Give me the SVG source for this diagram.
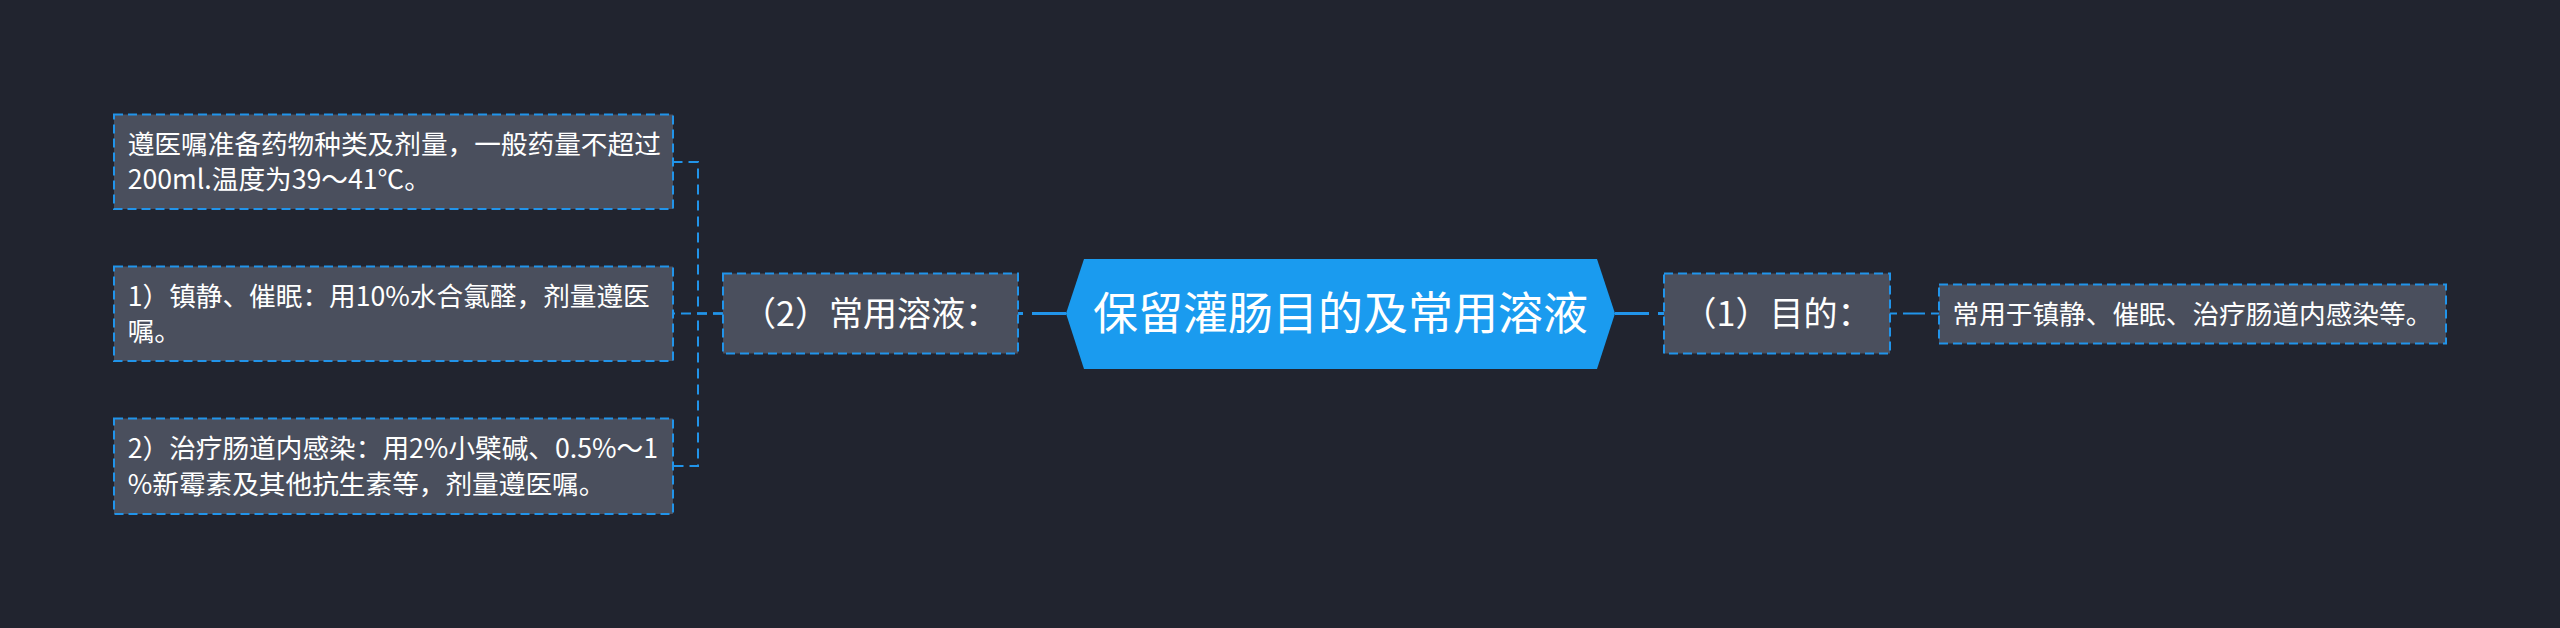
<svg xmlns="http://www.w3.org/2000/svg" width="2560" height="628" viewBox="0 0 2560 628">
<style>
.bg{fill:#21242f}
.box{fill:#4a4f5d;stroke:#2194ea;stroke-width:2;stroke-dasharray:9 5}
.t{font-family:"Noto Sans CJK SC","Noto Sans",sans-serif;fill:#ffffff}
.leaf{font-size:26.67px}
.mid{font-size:34px;text-anchor:middle}
.root{font-size:45px;text-anchor:middle}
.con{fill:none;stroke:#2194ea;stroke-width:2;stroke-dasharray:10 6}
</style>
<rect class="bg" x="0" y="0" width="2560" height="628"/>
<g id="connectors">
<path class="con" d="M723,313.5 L698,313.5 L698,162 L673,162"/>
<path class="con" d="M723,313.5 L673,313.5"/>
<path class="con" d="M723,313.5 L698,313.5 L698,466 L673,466"/>
<path class="con" d="M1066,313.5 L1018,313.5" style="stroke-width:3;stroke-dasharray:34 9 6 100"/>
<path class="con" d="M1615,313.5 L1664,313.5" style="stroke-width:3;stroke-dasharray:34 9 6 100"/>
<path class="con" d="M1890,313.5 L1939,313.5" style="stroke-dasharray:7 6 22 6 8 100"/>
</g>
<g id="root">
<polygon points="1066,313.5 1084,259 1597,259 1615,313.5 1597,369 1084,369" fill="#1a9bef"/>
<text class="t root" x="1340.5" y="330">保留灌肠目的及常用溶液</text>
</g>
<g id="n2">
<rect class="box" x="723" y="273.5" width="295" height="80"/>
<text class="t mid" x="870.5" y="326">（2）常用溶液：</text>
</g>
<g id="n1">
<rect class="box" x="1664" y="273.5" width="226" height="80"/>
<text class="t mid" x="1777" y="326">（1）目的：</text>
</g>
<g id="leaf-r">
<rect class="box" x="1939" y="284.5" width="507" height="59"/>
<text class="t leaf" x="1952.5" y="324">常用于镇静、催眠、治疗肠道内感染等。</text>
</g>
<g id="leaf-1">
<rect class="box" x="114" y="114.5" width="559" height="94.5"/>
<text class="t leaf" x="127.7" y="153.5">遵医嘱准备药物种类及剂量，一般药量不超过<tspan x="127.7" y="189">200ml.温度为39～41℃。</tspan></text>
</g>
<g id="leaf-2">
<rect class="box" x="114" y="266.5" width="559" height="94.5"/>
<text class="t leaf" x="127.7" y="305.5">1）镇静、催眠：用10%水合氯醛，剂量遵医<tspan x="127.7" y="341">嘱。</tspan></text>
</g>
<g id="leaf-3">
<rect class="box" x="114" y="418.5" width="559" height="95.5"/>
<text class="t leaf" x="127.7" y="458">2）治疗肠道内感染：用2%小檗碱、0.5%～1<tspan x="127.7" y="493.5">%新霉素及其他抗生素等，剂量遵医嘱。</tspan></text>
</g>
</svg>
